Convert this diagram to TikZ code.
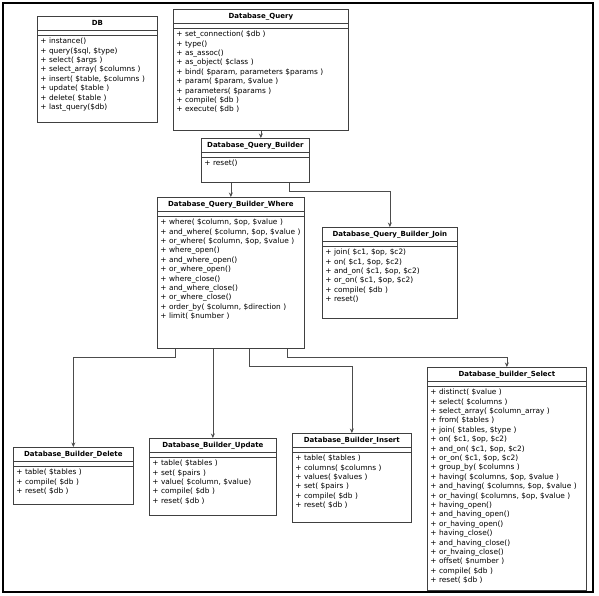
\documentclass[tikz,border=0pt]{standalone}
\usepackage{fontspec}
\setmainfont{DejaVu Sans}
\usetikzlibrary{shapes.multipart,arrows.meta}

\newcommand{\methodfont}{\fontsize{7.4}{9.4}\selectfont}
\newcommand{\classtitle}[1]{\centering\rule[-2.5pt]{0pt}{9pt}{\fontsize{7}{9}\selectfont\bfseries #1}\par}
\newcommand{\classbody}[2]{\begin{minipage}[t][#1][t]{\linewidth}\raggedright #2\end{minipage}}

\begin{document}
\begin{tikzpicture}
  [x=1pt,y=-1pt,
   classbox/.style={rectangle split,rectangle split parts=3,draw=black!75,line width=0.7pt,
     fill=white,anchor=north west,inner xsep=3pt,inner ysep=2pt,font=\methodfont},
   arr/.style={-{Stealth[length=4.5pt,width=4pt]},draw=black!70,line width=0.7pt}]
\useasboundingbox (0,0) rectangle (599,595);
\draw[line width=1.2pt] (3,3) rectangle (593,592);

\node (db)[classbox,text width=114pt] at (37,16) {\classtitle{DB}
  \nodepart{two}\rule{0pt}{1pt}
  \nodepart{three}\classbody{82pt}{+ instance()\\ + query(\$sql, \$type)\\ + select( \$args )\\
  + select\_array( \$columns )\\ + insert( \$table, \$columns )\\ + update( \$table )\\
  + delete( \$table )\\ + last\_query(\$db)}};
\node (query)[classbox,text width=169pt] at (173,9) {\classtitle{Database\_Query}
  \nodepart{two}\rule{0pt}{1pt}
  \nodepart{three}\classbody{97pt}{+ set\_connection( \$db )\\ + type()\\ + as\_assoc()\\
  + as\_object( \$class )\\ + bind( \$param, parameters \$params )\\ + param( \$param, \$value )\\
  + parameters( \$params )\\ + compile( \$db )\\ + execute( \$db )}};
\node (builder)[classbox,text width=102pt] at (201,138) {\classtitle{Database\_Query\_Builder}
  \nodepart{two}\rule{0pt}{1pt}
  \nodepart{three}\classbody{20pt}{+ reset()}};
\node (where)[classbox,text width=141pt] at (157,197) {\classtitle{Database\_Query\_Builder\_Where}
  \nodepart{two}\rule{0pt}{1pt}
  \nodepart{three}\classbody{127pt}{+ where( \$column, \$op, \$value )\\
  + and\_where( \$column, \$op, \$value )\\ + or\_where( \$column, \$op, \$value )\\
  + where\_open()\\ + and\_where\_open()\\ + or\_where\_open()\\ + where\_close()\\
  + and\_where\_close()\\ + or\_where\_close()\\ + order\_by( \$column, \$direction )\\
  + limit( \$number )}};
\node (join)[classbox,text width=129pt] at (322,227) {\classtitle{Database\_Query\_Builder\_Join}
  \nodepart{two}\rule{0pt}{1pt}
  \nodepart{three}\classbody{67pt}{+ join( \$c1, \$op, \$c2)\\ + on( \$c1, \$op, \$c2)\\
  + and\_on( \$c1, \$op, \$c2)\\ + or\_on( \$c1, \$op, \$c2)\\ + compile( \$db )\\ + reset()}};
\node (delete)[classbox,text width=114pt] at (13,447) {\classtitle{Database\_Builder\_Delete}
  \nodepart{two}\rule{0pt}{1pt}
  \nodepart{three}\classbody{33pt}{+ table( \$tables )\\ + compile( \$db )\\ + reset( \$db )}};
\node (update)[classbox,text width=121pt] at (149,438) {\classtitle{Database\_Builder\_Update}
  \nodepart{two}\rule{0pt}{1pt}
  \nodepart{three}\classbody{53pt}{+ table( \$tables )\\ + set( \$pairs )\\
  + value( \$column, \$value)\\ + compile( \$db )\\ + reset( \$db )}};
\node (insert)[classbox,text width=113pt] at (292,433) {\classtitle{Database\_Builder\_Insert}
  \nodepart{two}\rule{0pt}{1pt}
  \nodepart{three}\classbody{65pt}{+ table( \$tables )\\ + columns( \$columns )\\
  + values( \$values )\\ + set( \$pairs )\\ + compile( \$db )\\ + reset( \$db )}};
\node (select)[classbox,text width=153pt] at (427,367) {\classtitle{Database\_builder\_Select}
  \nodepart{two}\rule{0pt}{1pt}
  \nodepart{three}\classbody{199pt}{+ distinct( \$value )\\ + select( \$columns )\\
  + select\_array( \$column\_array )\\ + from( \$tables )\\ + join( \$tables, \$type )\\
  + on( \$c1, \$op, \$c2)\\ + and\_on( \$c1, \$op, \$c2)\\ + or\_on( \$c1, \$op, \$c2)\\
  + group\_by( \$columns )\\ + having( \$columns, \$op, \$value )\\
  + and\_having( \$columns, \$op, \$value )\\ + or\_having( \$columns, \$op, \$value )\\
  + having\_open()\\ + and\_having\_open()\\ + or\_having\_open()\\ + having\_close()\\
  + and\_having\_close()\\ + or\_hvaing\_close()\\ + offset( \$number )\\
  + compile( \$db )\\ + reset( \$db )}};

 \draw[arr] (query.south) -- (query.south |- builder.north);
 \draw[arr] (where.north |- builder.south) -- (where.north);
 \draw[arr] ([xshift=88pt]builder.south west) -- ++(0,9) -| (join.north);
 \draw[arr] (update.north |- where.south) -- (update.north);

 \foreach \dx/\dy/\to in {18/9/delete,92/18/insert,130/9/select}
    \draw[arr] ([xshift=\dx pt]where.south west) -- ++(0,\dy) -| (\to.north);
\end{tikzpicture}
\end{document}
